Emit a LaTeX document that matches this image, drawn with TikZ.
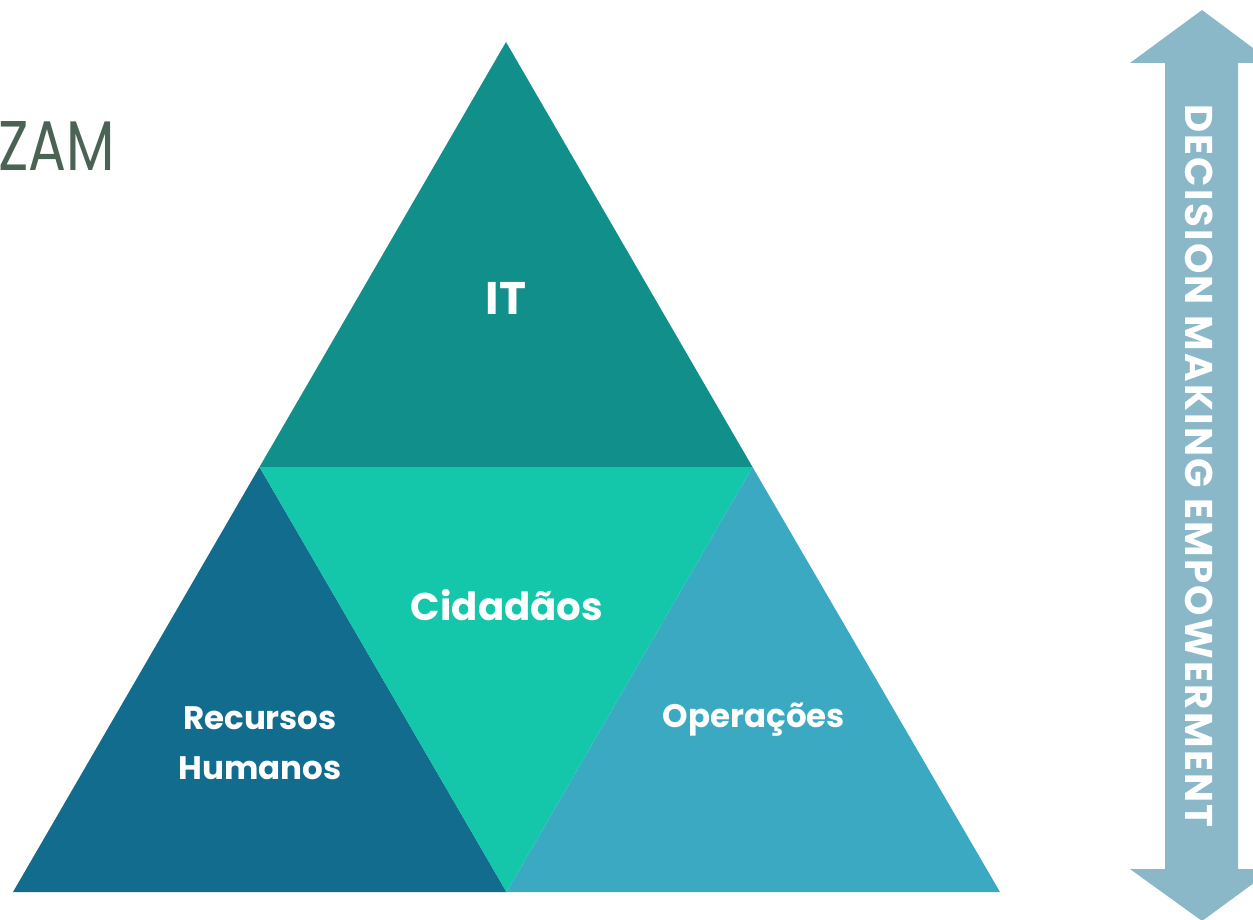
\documentclass[tikz,border=0pt]{standalone}
\usepackage{fontspec}
\setmainfont{Poppins}
\newfontfamily\thinfont{Poppins Light}
\definecolor{topteal}{HTML}{118F8A}
\definecolor{midgreen}{HTML}{14C6AA}
\definecolor{leftblue}{HTML}{126C8E}
\definecolor{rightblue}{HTML}{3CA9C3}
\definecolor{arrowblue}{HTML}{8AB8C8}
\definecolor{titlegreen}{HTML}{4B6354}
\tikzset{
  part/.style = {text=white, font=\bfseries, align=center},
}

\begin{document}
\begin{tikzpicture}[x=0.02cm, y=-0.02cm]
  \useasboundingbox (0,0) rectangle (1253,919);
  \clip (0,0) rectangle (1253,919);
  % corners of the big triangle
  \coordinate (T) at (506,42);
  \coordinate (L) at (13,892);
  \coordinate (R) at (1000,892);
  \coordinate (ML) at (259.5,467);
  \coordinate (MR) at (752.5,467);
  \coordinate (MB) at (506.5,892);
  \fill[topteal] (T) -- (ML) -- (MR) -- cycle;
  \fill[leftblue] (ML) -- (L) -- (MB) -- cycle;
  \fill[rightblue] (MR) -- (MB) -- (R) -- cycle;
  \fill[midgreen] (ML) -- (MR) -- (MB) -- cycle;
  \node[part, font=\bfseries\fontsize{26}{30}\selectfont] (it) at (506,298) {IT};
  \node[part, font=\bfseries\fontsize{22}{26}\selectfont] (cid) at (507,605) {Cidadãos};
  \node[part, font=\bfseries\fontsize{18.5}{28.5}\selectfont] (rh) at (260,743) {Recursos\\Humanos};
  \node[part, font=\bfseries\fontsize{18.5}{22}\selectfont] (op) at (754,720) {Operações};
  % double arrow
  \fill[arrowblue] (1202,10) -- (1273,63) -- (1238,63) -- (1238,869) -- (1273,869)
    -- (1202,921) -- (1130,869) -- (1165,869) -- (1165,63) -- (1130,63) -- cycle;
  \node[part, rotate=-90, font=\bfseries\fontsize{22}{26}\selectfont\addfontfeature{LetterSpace=6}]
    (dm) at (1199,466) {DECISION MAKING EMPOWERMENT};
  % title, cut at the left edge
  \node[anchor=east, xscale=0.8, text=titlegreen, font=\fontsize{40}{48}\selectfont]
    (title) at (120,146) {ZAM};
\end{tikzpicture}
\end{document}
